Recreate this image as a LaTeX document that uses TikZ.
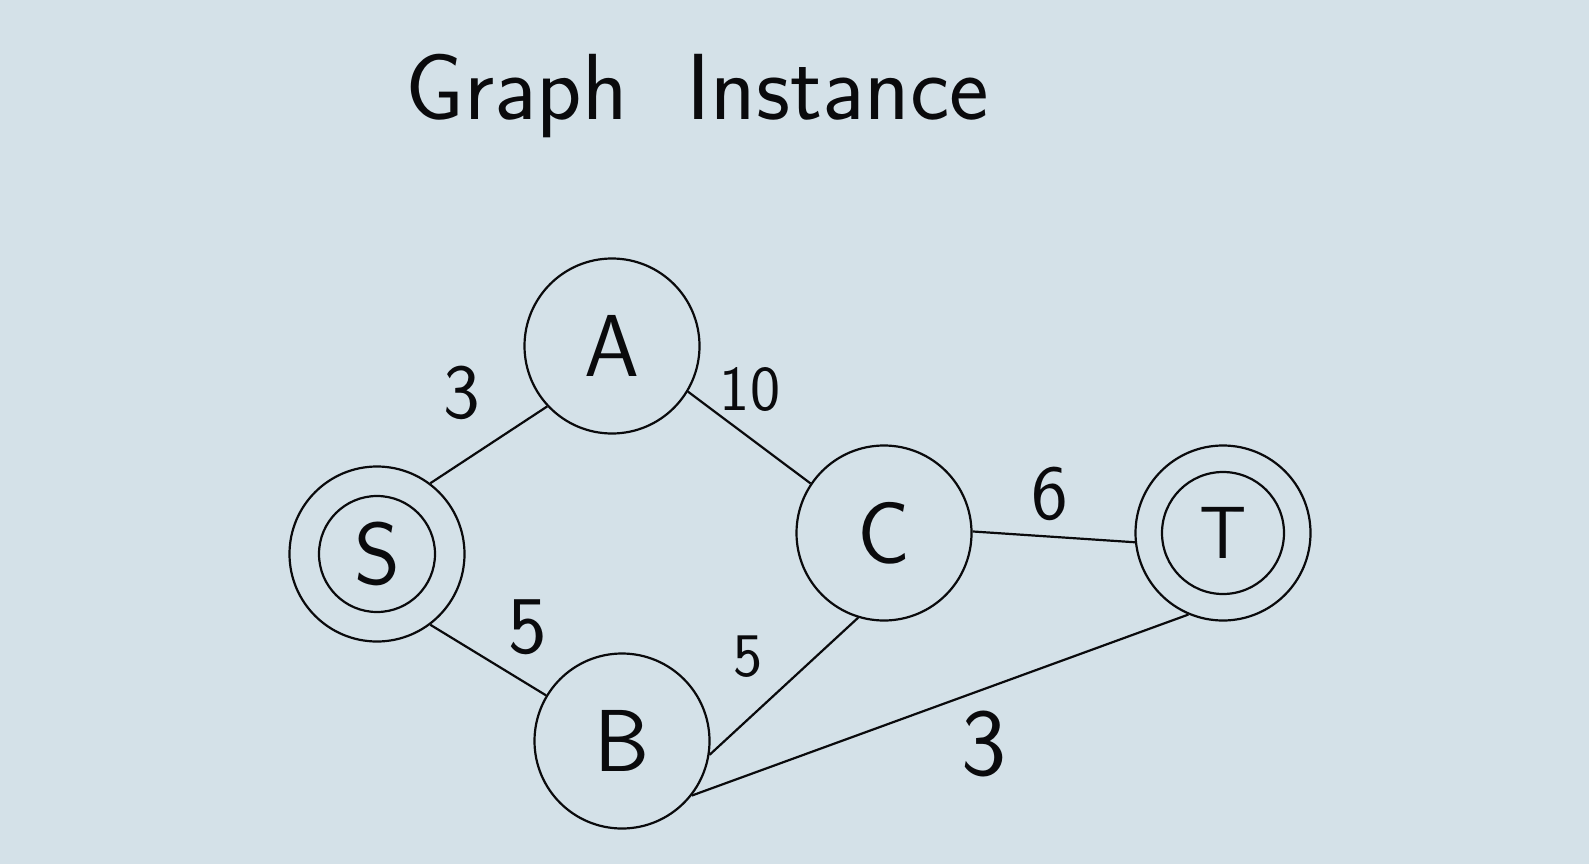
\documentclass[tikz,border=0pt]{standalone}
\usepackage{fontspec}
\definecolor{paper}{RGB}{212,225,232}
\definecolor{ink}{RGB}{10,10,12}
\begin{document}
\begin{tikzpicture}[x=1pt,y=-1pt,
  vertex/.style={circle,draw=ink,line width=2.2pt,minimum size=175pt,inner sep=0pt,font=\sffamily\fontsize{88}{90}\selectfont,text=ink},
  innerring/.style={draw=ink,line width=2.2pt},
  edge/.style={draw=ink,line width=2.2pt},
  wt/.style={text=ink,inner sep=0pt}]
\fill[paper] (0,0) rectangle (1589,864);
\useasboundingbox (0,0) rectangle (1589,864);
\node[font=\sffamily\fontsize{94}{96}\selectfont,text=ink] (title) at (697,96) {Graph\ \ Instance};
\node[vertex] (A) at (612,346) {A};
\node[vertex] (C) at (884,533) {C};
\node[vertex] (B) at (622,741) {B};
\node[vertex] (S) at (377,554) {S};
\node[vertex,font=\sffamily\fontsize{74}{76}\selectfont] (T) at (1223,533) {T};
\draw[innerring] (S.center) circle (58pt);
\draw[innerring] (T.center) circle (61pt);
\draw[edge] (S.53) -- (A.223);
\draw[edge] (A.-31) -- (C.146);
\draw[edge] (C.1) -- (T.186);
\draw[edge] (S.-53) -- (B.149);
\draw[edge] (B.-9) -- (C.253);
\draw[edge] (B.-38) -- (T.247);
\node[wt,font=\sffamily\fontsize{78}{80}\selectfont] (w1) at (462,393) {3};
\node[wt,font=\sffamily\fontsize{64}{66}\selectfont] (w2) at (750,390) {10};
\node[wt,font=\sffamily\fontsize{78}{80}\selectfont] (w3) at (1050,494) {6};
\node[wt,font=\sffamily\fontsize{82}{84}\selectfont] (w4) at (528,627) {5};
\node[wt,font=\sffamily\fontsize{62}{64}\selectfont] (w5) at (748,657) {5};
\node[wt,font=\sffamily\fontsize{96}{98}\selectfont] (w6) at (984,744) {3};
\end{tikzpicture}
\end{document}
